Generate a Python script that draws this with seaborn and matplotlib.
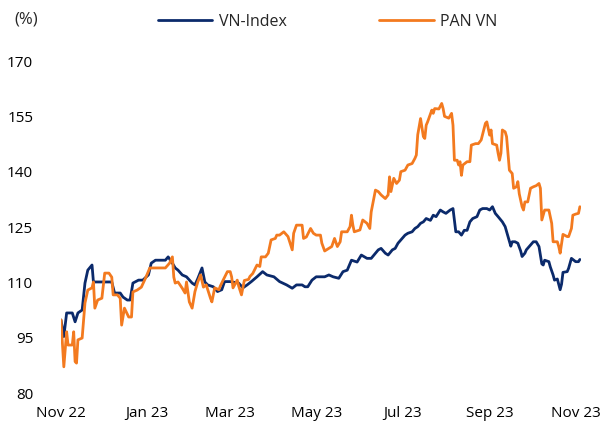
import numpy as np
import pandas as pd
import matplotlib
matplotlib.use("Agg")
import matplotlib.pyplot as plt
import matplotlib.dates as mdates
import seaborn as sns

start_date = "2022-11-01"

vn_day = [0, 2, 4, 8, 10, 12, 15, 17, 19, 22, 23, 25, 29, 33, 36, 38, 42, 44, 47, 49,
          51, 55, 58, 62, 64, 67, 74, 76, 79, 81, 83, 86, 89, 93, 95, 97, 100, 102, 104, 108,
          111, 114, 116, 120, 123, 126, 129, 132, 135, 139, 143, 146, 151, 155, 160, 164, 167, 171, 173, 175,
          178, 181, 185, 187, 190, 193, 197, 200, 203, 206, 210, 213, 217, 220, 223, 225, 227, 230, 232, 235,
          237, 239, 242, 244, 246, 249, 251, 253, 255, 257, 259, 262, 264, 266, 269, 271, 273, 276, 278, 280,
          282, 284, 286, 288, 290, 292, 295, 297, 299, 302, 304, 306, 308, 310, 313, 315, 317, 319, 320, 322,
          324, 326, 327, 329, 330, 333, 335, 337, 339, 341, 342, 343, 346, 347, 349, 350, 352, 354, 355, 356,
          359, 360, 362, 365, 367, 368]
vn_val = [99.8, 95.3, 101.7, 101.7, 99.3, 101.7, 102.5, 109.8, 113.3, 114.7, 110.1, 110.1, 110.1, 110.1, 110.1, 107.1, 107.1, 106.0, 105.2, 105.2,
          109.8, 110.6, 110.6, 112.0, 115.2, 116.0, 116.0, 116.9, 115.2, 113.9, 113.3, 112.0, 111.5, 109.8, 109.3, 111.0, 113.9, 110.1, 109.3, 108.8,
          107.5, 108.0, 110.2, 110.2, 110.0, 109.8, 108.5, 109.3, 110.2, 111.5, 112.9, 112.0, 111.5, 110.2, 109.3, 108.4, 109.3, 109.3, 108.8, 108.8,
          110.6, 111.5, 111.5, 111.5, 112.0, 111.5, 111.1, 112.9, 113.3, 116.0, 115.5, 117.4, 116.5, 116.5, 117.9, 118.8, 119.2, 117.9, 117.4, 118.8,
          119.2, 120.6, 121.9, 122.8, 123.3, 123.7, 124.6, 125.1, 126.0, 126.4, 127.3, 126.8, 128.2, 127.8, 129.6, 129.1, 128.7, 129.6, 130.0, 123.7,
          123.7, 122.8, 124.1, 124.1, 126.4, 127.3, 127.8, 129.6, 130.0, 130.0, 129.6, 130.5, 128.7, 127.8, 126.4, 125.1, 122.5, 119.8, 121.0, 121.0,
          120.6, 118.5, 117.0, 117.9, 118.8, 120.1, 121.0, 121.0, 119.7, 115.0, 114.7, 116.0, 115.6, 114.2, 112.0, 110.6, 110.9, 108.0, 109.5, 112.7,
          112.9, 113.8, 116.5, 115.6, 115.6, 116.2]

pan_day = [0, 2, 4, 5, 8, 9, 10, 11, 12, 15, 17, 19, 22, 23, 24, 26, 29, 31, 34, 36,
           37, 40, 42, 43, 45, 48, 50, 51, 54, 57, 60, 63, 67, 74, 77, 79, 80, 81, 83, 86,
           88, 89, 91, 93, 95, 97, 99, 101, 103, 106, 107, 109, 112, 113, 115, 118, 120, 121, 122, 125,
           126, 128, 130, 133, 134, 136, 139, 141, 142, 145, 147, 149, 152, 153, 155, 158, 161, 164, 165, 167,
           171, 172, 174, 177, 179, 181, 184, 185, 187, 190, 192, 194, 196, 198, 199, 203, 205, 206, 207, 208,
           212, 214, 217, 219, 220, 223, 225, 227, 230, 232, 233, 234, 236, 238, 240, 241, 244, 246, 249, 251,
           252, 253, 255, 257, 258, 259, 260, 263, 264, 265, 268, 270, 271, 272, 275, 277, 278, 279, 281, 282,
           283, 284, 285, 288, 290, 291, 294, 296, 298, 301, 302, 304, 305, 306, 309, 310, 311, 312, 313, 315,
           316, 318, 320, 321, 323, 324, 325, 327, 328, 329, 331, 333, 335, 337, 339, 340, 341, 343, 346, 347,
           348, 349, 352, 353, 354, 356, 359, 360, 362, 363, 365, 367, 368]
pan_val = [99.8, 87.1, 96.6, 93.0, 93.0, 96.6, 88.5, 88.1, 94.4, 94.9, 104.4, 107.9, 108.5, 110.1, 103.0, 105.2, 105.7, 112.5, 112.5, 111.4,
           106.6, 106.6, 105.7, 98.4, 103.0, 100.6, 100.6, 107.4, 107.9, 108.7, 111.2, 113.9, 113.9, 113.9, 115.2, 116.9, 111.4, 109.8, 110.1, 108.4,
           107.1, 110.1, 104.7, 103.0, 107.5, 110.1, 112.0, 108.7, 109.3, 105.7, 104.7, 108.5, 108.0, 109.0, 110.6, 112.9, 112.9, 111.5, 108.5, 110.6,
           109.0, 106.6, 110.5, 110.8, 111.6, 112.4, 114.7, 114.3, 116.9, 116.9, 117.9, 121.5, 121.9, 122.8, 122.8, 123.7, 122.4, 118.8, 123.3, 125.5,
           125.5, 121.9, 122.3, 124.6, 123.3, 122.8, 122.8, 120.6, 118.5, 119.2, 119.7, 121.9, 119.7, 121.0, 123.7, 123.7, 125.1, 128.2, 125.5, 123.7,
           124.2, 126.9, 126.0, 124.6, 129.1, 135.0, 134.6, 133.7, 132.7, 133.7, 138.6, 134.6, 138.2, 136.8, 137.7, 140.0, 140.4, 141.8, 142.2, 143.6,
           144.5, 150.0, 154.4, 149.5, 149.0, 152.6, 153.5, 156.7, 155.8, 157.1, 157.0, 158.5, 157.1, 155.0, 154.5, 155.8, 152.6, 143.1, 143.1, 141.8,
           142.7, 139.0, 141.8, 142.7, 142.7, 147.2, 147.6, 147.6, 148.6, 153.1, 153.5, 149.9, 151.3, 147.6, 147.2, 145.0, 143.1, 145.0, 151.3, 150.8,
           149.5, 140.4, 139.5, 135.5, 135.9, 137.3, 134.0, 130.5, 129.6, 131.8, 131.8, 135.5, 135.9, 136.2, 136.8, 135.5, 126.9, 129.6, 129.6, 127.8,
           126.0, 121.0, 121.0, 119.7, 117.9, 123.0, 122.4, 122.4, 124.6, 128.2, 128.5, 128.7, 130.5]

series_names = ["VN-Index", "PAN VN"]
y_ticks = [80, 95, 110, 125, 140, 155, 170]
x_tick_dates = ["2022-11-01", "2023-01-01", "2023-03-01", "2023-05-01", "2023-07-01", "2023-09-01", "2023-11-01"]

t0 = pd.Timestamp(start_date)
df = pd.concat([
    pd.DataFrame({"date": t0 + pd.to_timedelta(vn_day, unit="D"), "value": vn_val, "series": series_names[0]}),
    pd.DataFrame({"date": t0 + pd.to_timedelta(pan_day, unit="D"), "value": pan_val, "series": series_names[1]}),
], ignore_index=True)

sns.set_style("white")
plt.rcParams["font.family"] = ["Open Sans", "DejaVu Sans"]

fig = plt.figure(figsize=(6.0, 4.23), dpi=100)
ax = fig.add_axes([61 / 600, 30 / 423, 520.3 / 600, 332 / 423])

palette = {"VN-Index": "#0B2A6B", "PAN VN": "#F37A1F"}
sns.lineplot(data=df, x="date", y="value", hue="series", palette=palette,
             estimator=None, linewidth=2.0, ax=ax, legend=False, sort=False)

ax.set_xlim(t0, t0 + pd.Timedelta(days=369))
ax.set_ylim(80, 170)
ax.set_yticks(y_ticks)
ax.set_xticks(pd.to_datetime(x_tick_dates))
ax.xaxis.set_major_formatter(mdates.DateFormatter("%b %y"))
ax.tick_params(axis="both", length=0, labelsize=11, colors="#000000")
ax.tick_params(axis="y", pad=20)
ax.tick_params(axis="x", pad=9)
ax.set_xlabel("")
ax.set_ylabel("")
for s in ax.spines.values():
    s.set_visible(False)
ax.grid(False)

handles = [plt.Line2D([], [], color=palette[n], linewidth=2.0) for n in series_names]
fig.legend(handles, series_names, loc="center left", bbox_to_anchor=(158 / 600, 1 - 22 / 423),
           ncol=2, frameon=False, fontsize=11.5, handlelength=3.4, handletextpad=0.4,
           columnspacing=5.8, borderaxespad=0, borderpad=0)

fig.text(14 / 600, 1 - 19 / 423, "(%)", fontsize=12, ha="left", va="center")

fig.savefig("out.png", dpi=100)
